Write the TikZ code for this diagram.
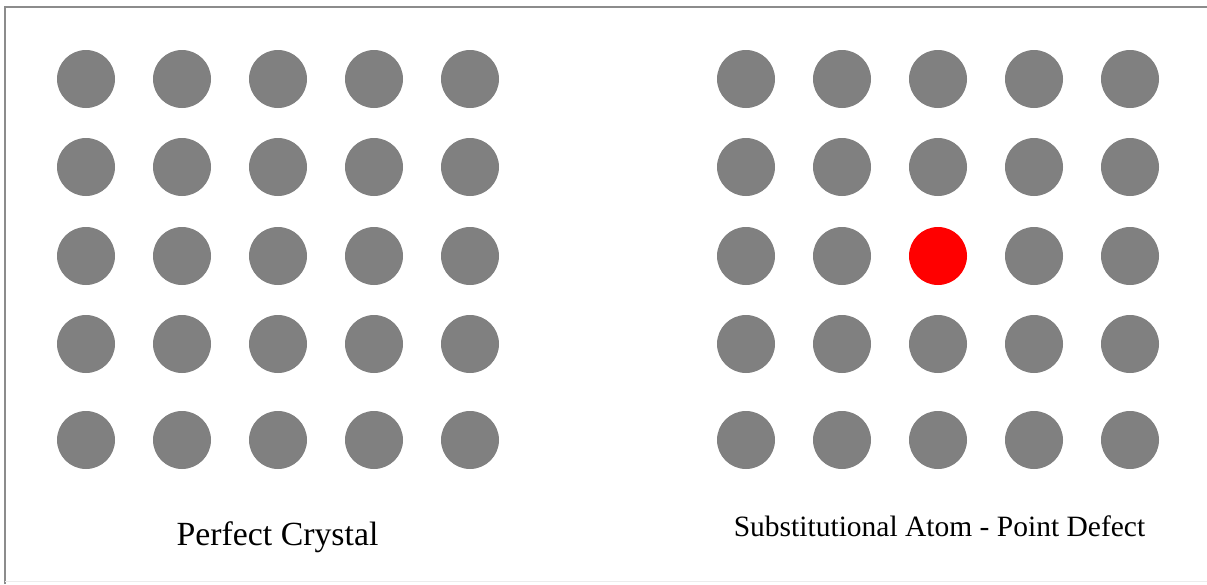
\documentclass[tikz,border=0pt]{standalone}
\usepackage{fontspec}
\setmainfont{Liberation Serif}
\usepackage{xcolor}
\usetikzlibrary{positioning}
\tikzset{
  atom/.style    = {circle, fill=gray, inner sep=0pt, minimum size=58pt},
  subatom/.style = {circle, fill=red,  inner sep=0pt, minimum size=58pt},
  caption/.style = {anchor=base, inner sep=0pt, text=black}
}

\begin{document}
\begin{tikzpicture}[x=1pt, y=-1pt]
    \useasboundingbox (0,0) rectangle (1207,584);

    % --- Frame --------------------------------------------------------------
    \draw[gray!90, line width=1.2pt] (5,584) -- (5,7) -- (1207,7);
    \draw[gray!15, line width=1pt] (5,581) -- (1207,581);

    % --- Perfect crystal (left lattice) -------------------------------------
    \foreach \j/\y in {1/79, 2/167, 3/256, 4/344, 5/440}
      \foreach \i/\x in {1/86, 2/182, 3/278, 4/374, 5/470}
        {\node[atom] (L-\i-\j) at (\x,\y) {};}

    % --- Lattice with a substitutional atom (right) -------------------------
    \foreach \j/\y in {1/79, 2/167, 3/256, 4/344, 5/440}
      \foreach \i/\x in {1/746, 2/842, 3/938, 4/1034, 5/1130}
        {\ifnum\i\j=33 \def\kind{subatom}\else\def\kind{atom}\fi
         \node[\kind] (R-\i-\j) at (\x,\y) {};}

    % --- Captions -----------------------------------------------------------
    \node[caption, font=\fontsize{33.8}{36}\selectfont] (perfect) at (277.5,545)
      {Perfect Crystal};
    \node[caption, font=\fontsize{29.5}{32}\selectfont] (defect) at (939.5,536)
      {Substitutional Atom - Point Defect};

\end{tikzpicture}
\end{document}
